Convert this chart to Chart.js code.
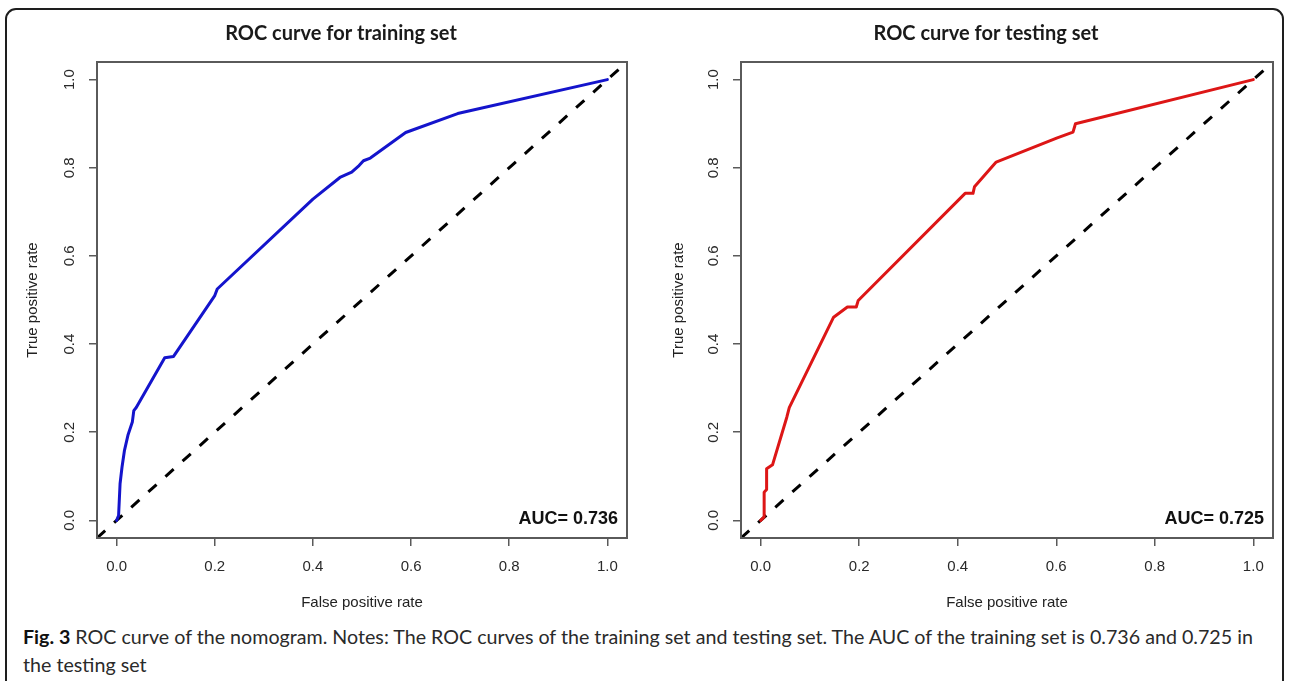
<!DOCTYPE html>
<html>
<head>
<meta charset="utf-8">
<script src="https://cdn.jsdelivr.net/npm/chart.js@4/dist/chart.umd.min.js"></script>
<style>
  html, body { margin: 0; padding: 0; background: #fff; width: 1292px; height: 681px; overflow: hidden; }
  #frame { position: absolute; left: 5px; top: 8px; width: 1279px; height: 720px; border: 2px solid #1e1e1e; border-radius: 11px; box-sizing: border-box; }
  canvas { position: absolute; top: 0; }
  #cv1 { left: 0; }
  #cv2 { left: 646px; }
  #caption { position: absolute; left: 23px; top: 623px; font-family: Lato, "Open Sans", sans-serif; font-size: 18px; line-height: 28px; color: #2a2a2a; white-space: nowrap; }
  #caption b { color: #111; }
</style>
</head>
<body>
<div id="frame"></div>
<canvas id="cv1" width="646" height="620"></canvas>
<canvas id="cv2" width="646" height="620"></canvas>
<div id="caption"><span id="cap1"><b>Fig. 3</b> ROC curve of the nomogram. Notes: The ROC curves of the training set and testing set. The AUC of the training set is 0.736 and 0.725 in</span><br><span id="cap2">the testing set</span></div>
<script>
// ---- data ----
const trainFPR = [0, 0.004, 0.007, 0.011, 0.016, 0.023, 0.032, 0.035, 0.040, 0.098, 0.116, 0.200, 0.205, 0.400, 0.455, 0.479, 0.494, 0.503, 0.517, 0.589, 0.695, 1.0];
const trainTPR = [0, 0.011, 0.083, 0.121, 0.159, 0.193, 0.223, 0.249, 0.256, 0.369, 0.372, 0.510, 0.525, 0.729, 0.778, 0.790, 0.805, 0.816, 0.822, 0.880, 0.923, 1.0];
const testFPR = [0, 0.007, 0.007, 0.012, 0.012, 0.024, 0.053, 0.058, 0.148, 0.176, 0.194, 0.198, 0.415, 0.431, 0.434, 0.478, 0.602, 0.634, 0.639, 1.0];
const testTPR = [0, 0.008, 0.064, 0.070, 0.117, 0.126, 0.234, 0.256, 0.461, 0.484, 0.484, 0.499, 0.742, 0.742, 0.757, 0.813, 0.868, 0.881, 0.900, 1.0];
const titles = ["ROC curve for training set", "ROC curve for testing set"];
const aucLabels = ["AUC= 0.736", "AUC= 0.725"];
const xTickValues = [0, 0.2, 0.4, 0.6, 0.8, 1.0];
const yTickValues = [0, 0.2, 0.4, 0.6, 0.8, 1.0];
const axisMin = -0.04, axisMax = 1.04;
const xAxisTitle = "False positive rate";
const yAxisTitle = "True positive rate";

const AXIS_COLOR = '#5a5a5a';
const TEXT_COLOR = '#222222';
const LABEL_FONT = '"Liberation Sans", Arial, sans-serif';

function makeChart(id, fpr, tpr, color, title, auc, yWidth) {
  const pts = fpr.map((x, i) => ({x: x, y: tpr[i]}));
  const diag = [{x: axisMin, y: axisMin}, {x: axisMax, y: axisMax}];
  const decor = {
    id: 'decor_' + id,
    afterDraw(chart) {
      const ctx = chart.ctx;
      const a = chart.chartArea;
      const ys = chart.scales.y;
      ctx.save();
      // plot box
      ctx.strokeStyle = AXIS_COLOR;
      ctx.lineWidth = 2;
      ctx.strokeRect(a.left, a.top, a.right - a.left, a.bottom - a.top);
      // rotated y tick labels
      ctx.fillStyle = '#2a2a2a';
      ctx.font = '15px ' + LABEL_FONT;
      ctx.textAlign = 'center';
      ctx.textBaseline = 'middle';
      ys.ticks.forEach(t => {
        const py = ys.getPixelForValue(t.value);
        ctx.save();
        ctx.translate(a.left - 27.5, py);
        ctx.rotate(-Math.PI / 2);
        ctx.fillText(t.value.toFixed(1), 0, 0);
        ctx.restore();
      });
      // title
      ctx.fillStyle = '#1a1a1a';
      ctx.font = 'bold 20px Lato, sans-serif';
      ctx.fillText(title, (a.left + a.right) / 2 - 21, 34);
      // AUC
      ctx.fillStyle = '#111';
      ctx.font = 'bold 18px ' + LABEL_FONT;
      ctx.textAlign = 'right';
      ctx.fillText(auc, a.right - 9, a.bottom - 19);
      ctx.restore();
    }
  };
  return new Chart(document.getElementById(id), {
    type: 'scatter',
    data: {
      datasets: [
        { data: pts, showLine: true, borderColor: color, borderWidth: 3, pointRadius: 0, tension: 0, borderJoinStyle: 'round', borderCapStyle: 'round' },
        { data: diag, showLine: true, borderColor: '#000', borderWidth: 3, borderDash: [11, 12], pointRadius: 0, borderCapStyle: 'butt' }
      ]
    },
    options: {
      responsive: false,
      animation: false,
      devicePixelRatio: 1,
      layout: { padding: { left: 0, top: 62, right: 19, bottom: 0 } },
      plugins: { legend: { display: false }, title: { display: false }, tooltip: { enabled: false } },
      scales: {
        x: {
          type: 'linear', position: 'bottom', min: axisMin, max: axisMax,
          afterBuildTicks: s => { s.ticks = xTickValues.map(v => ({value: v})); },
          afterFit: s => { s.height = 82; },
          grid: { drawOnChartArea: false, drawTicks: true, tickLength: 8, color: AXIS_COLOR, tickColor: AXIS_COLOR, lineWidth: 1.5, tickWidth: 1.5 },
          border: { display: false },
          ticks: { padding: 12, color: '#2a2a2a', font: { family: LABEL_FONT, size: 15 }, maxRotation: 0, minRotation: 0, callback: v => Number(v).toFixed(1) },
          title: { display: true, text: xAxisTitle, color: TEXT_COLOR, padding: 8, font: { family: LABEL_FONT, size: 15 } }
        },
        y: {
          type: 'linear', position: 'left', min: axisMin, max: axisMax,
          afterBuildTicks: s => { s.ticks = yTickValues.map(v => ({value: v})); },
          afterFit: s => { s.width = yWidth; },
          grid: { drawOnChartArea: false, drawTicks: true, tickLength: 8, color: AXIS_COLOR, tickColor: AXIS_COLOR, lineWidth: 1.5, tickWidth: 1.5 },
          border: { display: false },
          ticks: { display: false },
          title: { display: true, text: yAxisTitle, color: TEXT_COLOR, padding: 24, font: { family: LABEL_FONT, size: 15 } }
        }
      }
    },
    plugins: [decor]
  });
}

makeChart('cv1', trainFPR, trainTPR, '#1414cc', titles[0], aucLabels[0], 97);
makeChart('cv2', testFPR, testTPR, '#dd1616', titles[1], aucLabels[1], 95);

// fit caption first line to reference width by font size
(function () {
  const cap = document.getElementById('caption');
  const l1 = document.getElementById('cap1');
  const target = 1230;
  const w = l1.getBoundingClientRect().width;
  const fs = 18 * target / w;
  cap.style.fontSize = fs.toFixed(2) + 'px';
})();
</script>
</body>
</html>
